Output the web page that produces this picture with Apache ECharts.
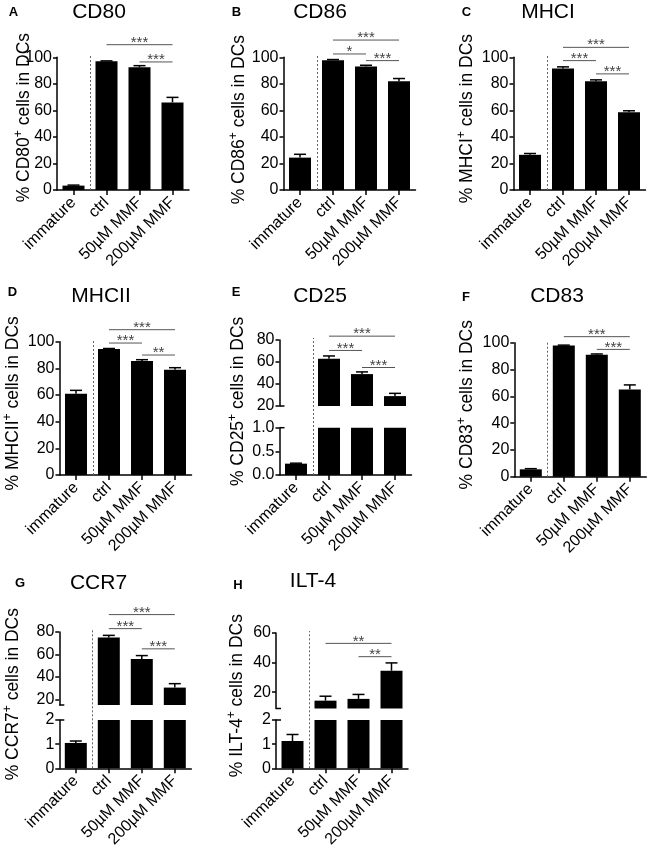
<!DOCTYPE html>
<html><head><meta charset="utf-8">
<script src="https://cdn.jsdelivr.net/npm/echarts@6/dist/echarts.min.js"></script>
<style>html,body{margin:0;padding:0;background:#fff}#c{width:649px;height:851px}</style>
</head><body><div id="c"></div>
<script>
// ---------------- data ----------------
const categories = ['immature', 'ctrl', '50µM MMF', '200µM MMF'];
const panelLetters = ['A', 'B', 'C', 'D', 'E', 'F', 'G', 'H'];
const panelTitles = ['CD80', 'CD86', 'MHCI', 'MHCII', 'CD25', 'CD83', 'CCR7', 'ILT-4'];

const cd80Mean = [3.3, 97, 92.5, 66];
const cd80Err = [0.4, 0.3, 1.2, 3.8];
const cd80Sig = [[1, 3, 109.5, '***'], [2, 3, 96.5, '***']];

const cd86Mean = [24.4, 97.8, 93, 82];
const cd86Err = [2.5, 0.5, 1, 2];
const cd86Sig = [[1, 3, 113, '***'], [1, 2, 102.5, '*'], [2, 3, 97.5, '***']];

const mhc1Mean = [26.5, 91.5, 82, 58.5];
const mhc1Err = [1, 1.3, 1, 1.2];
const mhc1Sig = [[1, 3, 107.5, '***'], [1, 2, 97.5, '***'], [2, 3, 87.5, '***']];

const mhc2Mean = [61, 94.5, 85.5, 79];
const mhc2Err = [2.5, 0.4, 1, 1.5];
const mhc2Sig = [[1, 3, 109, '***'], [1, 2, 99, '***'], [2, 3, 90, '**']];

const cd25Mean = [0.24, 63, 49, 29];
const cd25Err = [0.01, 2.5, 2, 2.5];
const cd25Sig = [[1, 3, 83.5, '***'], [1, 2, 70.5, '***'], [2, 3, 55, '***']];

const cd83Mean = [5.5, 98, 91, 65];
const cd83Err = [0.5, 0.2, 0.6, 3.5];
const cd83Sig = [[1, 3, 104.5, '***'], [2, 3, 95, '***']];

const ccr7Mean = [1.05, 75, 56, 30.5];
const ccr7Err = [0.08, 2, 3, 3.5];
const ccr7Sig = [[1, 3, 95.5, '***'], [1, 2, 83, '***'], [2, 3, 65, '***']];

const ilt4Mean = [1.13, 14.3, 15.5, 34.5];
const ilt4Err = [0.27, 3, 3, 5.3];
const ilt4Sig = [[1, 3, 53, '**'], [2, 3, 44, '**']];

const ticksPercent = [0, 20, 40, 60, 80, 100];
const cd25UpperTicks = [20, 40, 60, 80];
const cd25LowerTicks = [0, 0.5, 1.0];
const ccr7UpperTicks = [20, 40, 60, 80];
const ccr7LowerTicks = [0, 1, 2];
const ilt4UpperTicks = [20, 40, 60];
const ilt4LowerTicks = [0, 1, 2];

// ---------------- layout ----------------
const FONT = "'Liberation Sans', Arial, Helvetica, sans-serif";
const CAT_W = 33;
const fmt1 = v => v.toFixed(1);
const panels = [
  { mean: cd80Mean, err: cd80Err, sig: cd80Sig, left: 57, nameGap: 21, shift: 6, title: [99, 12.5], letter: [13.5, 12.5],
    segs: [{ top: 57.3, bottom: 190, min: 0, max: 100, ticks: ticksPercent }] },
  { mean: cd86Mean, err: cd86Err, sig: cd86Sig, left: 283.5, nameGap: 33, shift: 4, title: [320, 12.5], letter: [236.5, 12.5],
    segs: [{ top: 57.3, bottom: 190, min: 0, max: 100, ticks: ticksPercent }] },
  { mean: mhc1Mean, err: mhc1Err, sig: mhc1Sig, left: 513.5, nameGap: 35, shift: 5, title: [548, 12.5], letter: [466.5, 12.5],
    segs: [{ top: 57.3, bottom: 190, min: 0, max: 100, ticks: ticksPercent }] },
  { mean: mhc2Mean, err: mhc2Err, sig: mhc2Sig, left: 59.5, nameGap: 35, shift: 5, title: [101, 296.5], letter: [12.5, 292.5],
    segs: [{ top: 341.7, bottom: 475, min: 0, max: 100, ticks: ticksPercent }] },
  { mean: cd25Mean, err: cd25Err, sig: cd25Sig, left: 279.5, nameGap: 30, shift: 50, title: [320, 296.5], letter: [236, 292.5],
    segs: [{ top: 340, bottom: 406, min: 20, max: 80, ticks: cd25UpperTicks },
           { top: 427.7, bottom: 475, min: 0, max: 1, ticks: cd25LowerTicks, fmt: fmt1 }] },
  { mean: cd83Mean, err: cd83Err, sig: cd83Sig, left: 514.3, nameGap: 36, shift: 5, title: [557, 296.5], letter: [466, 297.5],
    segs: [{ top: 342.7, bottom: 476.7, min: 0, max: 100, ticks: ticksPercent }] },
  { mean: ccr7Mean, err: ccr7Err, sig: ccr7Sig, left: 59.3, nameGap: 35, shift: 50, title: [98.5, 583.3], letter: [20, 583.5],
    segs: [{ top: 632, bottom: 705, min: 15, max: 80, ticks: ccr7UpperTicks },
           { top: 720, bottom: 768.3, min: 0, max: 2, ticks: ccr7LowerTicks }] },
  { mean: ilt4Mean, err: ilt4Err, sig: ilt4Sig, left: 276, nameGap: 27, shift: 48.5, title: [313, 581.7], letter: [238, 585],
    segs: [{ top: 633, bottom: 708.5, min: 9, max: 60, ticks: ilt4UpperTicks },
           { top: 720, bottom: 768.3, min: 0, max: 2, ticks: ilt4LowerTicks }] }
];

function makeErrRender(seg) {
  return function (params, api) {
    const i = api.value(0), m = api.value(1), e = api.value(2);
    if (m > seg.max || m < seg.min) return null;
    const p0 = api.coord([i, m]);
    const p1 = api.coord([i, m + e]);
    const hw = 6;
    return { type: 'group', children: [
      { type: 'line', shape: { x1: p0[0], y1: p0[1], x2: p1[0], y2: p1[1] }, style: { stroke: '#000', lineWidth: 1.5 } },
      { type: 'line', shape: { x1: p1[0] - hw, y1: p1[1], x2: p1[0] + hw, y2: p1[1] }, style: { stroke: '#000', lineWidth: 1.5 } }
    ] };
  };
}

function makeSigRender(sig) {
  return function (params, api) {
    const s = sig[params.dataIndex];
    const pa = api.coord([s[0], s[2]]);
    const pb = api.coord([s[1], s[2]]);
    return { type: 'group', children: [
      { type: 'line', shape: { x1: pa[0], y1: pa[1], x2: pb[0], y2: pb[1] }, style: { stroke: '#555', lineWidth: 1 } },
      { type: 'text', x: (pa[0] + pb[0]) / 2, y: pa[1] - 2,
        style: { text: s[3], align: 'center', verticalAlign: 'middle', fontSize: 15, fontFamily: FONT, fill: '#444' } }
    ] };
  };
}

function makeDecoRender(seg, isTop, isBottom, panelTop) {
  return function (params, api) {
    const cs = params.coordSys;
    const children = [];
    if (isBottom) {
      const c0 = api.coord([0, seg.min]);
      const c1 = api.coord([1, seg.min]);
      const x = Math.round((c0[0] + c1[0]) / 2) + 0.5;
      children.push({ type: 'line', shape: { x1: x, y1: cs.y + cs.height, x2: x, y2: panelTop - 2 },
        style: { stroke: '#666', lineWidth: 1, lineDash: [2, 2] } });
    }
    if (!isBottom) {
      const y = cs.y + cs.height;
      children.push({ type: 'line', shape: { x1: cs.x, y1: y, x2: cs.x + 5, y2: y }, style: { stroke: '#000', lineWidth: 1.5 } });
    }
    if (!isTop) {
      const y = cs.y;
      children.push({ type: 'line', shape: { x1: cs.x, y1: y, x2: cs.x + 5, y2: y }, style: { stroke: '#000', lineWidth: 1.5 } });
    }
    return { type: 'group', children };
  };
}

const grid = [], xAxis = [], yAxis = [], series = [], title = [];
panels.forEach((p, pi) => {
  const nSeg = p.segs.length;
  const panelTop = p.segs[0].top;
  title.push({ text: panelTitles[pi], left: p.title[0], top: p.title[1], textAlign: 'center', textVerticalAlign: 'middle', padding: 0,
    textStyle: { fontSize: 21, fontWeight: 'normal', fontFamily: FONT, color: '#000' } });
  title.push({ text: panelLetters[pi], left: p.letter[0], top: p.letter[1], textAlign: 'center', textVerticalAlign: 'middle', padding: 0,
    textStyle: { fontSize: 13, fontWeight: 'bold', fontFamily: FONT, color: '#000' } });
  p.segs.forEach((s, si) => {
    const gi = grid.length;
    const isTop = si === 0, isBottom = si === nSeg - 1;
    grid.push({ left: p.left, top: s.top, width: CAT_W * categories.length, height: s.bottom - s.top,
      containLabel: false, outerBoundsMode: 'none' });
    xAxis.push({ gridIndex: gi, type: 'category', data: categories, boundaryGap: true,
      axisLine: { show: isBottom, onZero: false, lineStyle: { color: '#000', width: 1.5 } },
      axisTick: { show: isBottom, alignWithLabel: true, length: 5, lineStyle: { color: '#000', width: 1.5 } },
      axisLabel: { show: isBottom, interval: 0, rotate: 45, fontSize: 16, margin: 10, color: '#000', fontFamily: FONT },
      splitLine: { show: false } });
    const y = { gridIndex: gi, type: 'value', min: s.min, max: s.max,
      axisLine: { show: true, onZero: false, lineStyle: { color: '#000', width: 1.5 } },
      axisTick: { show: true, length: 4, customValues: s.ticks, lineStyle: { color: '#000', width: 1.5 } },
      axisLabel: { customValues: s.ticks, fontSize: 16, margin: 5, color: '#000', fontFamily: FONT,
        formatter: s.fmt || (v => String(v)) },
      splitLine: { show: false } };
    if (isBottom) {
      const marker = panelTitles[pi];
      const sh = p.shift;
      y.name = '{a|% ' + marker + '}{s|+}{a| cells in DCs}';
      y.nameLocation = 'middle';
      y.nameGap = p.nameGap;
      y.nameMoveOverlap = false;
      y.nameTextStyle = { fontSize: 17.5, fontFamily: FONT, color: '#000',
        padding: sh >= 0 ? [0, 0, 0, 2 * sh] : [0, -2 * sh, 0, 0],
        rich: { a: { fontSize: 17.5, fontFamily: FONT, color: '#000', lineHeight: 23 },
                s: { fontSize: 12, fontFamily: FONT, color: '#000', lineHeight: 10, verticalAlign: 'top' } } };
    }
    yAxis.push(y);
    series.push({ type: 'bar', xAxisIndex: gi, yAxisIndex: gi, data: p.mean, barWidth: 22, clip: true,
      itemStyle: { color: '#000' }, silent: true });
    series.push({ type: 'custom', xAxisIndex: gi, yAxisIndex: gi, clip: false, silent: true,
      data: p.mean.map((m, i) => [i, m, p.err[i]]), renderItem: makeErrRender(s) });
    series.push({ type: 'custom', xAxisIndex: gi, yAxisIndex: gi, clip: false, silent: true,
      data: [[0, s.min]], renderItem: makeDecoRender(s, isTop, isBottom, panelTop) });
    if (isTop) {
      series.push({ type: 'custom', xAxisIndex: gi, yAxisIndex: gi, clip: false, silent: true,
        data: p.sig.map(g => [g[0], g[2]]), renderItem: makeSigRender(p.sig) });
    }
  });
});

const chart = echarts.init(document.getElementById('c'), null, { renderer: 'canvas' });
chart.setOption({ animation: false, backgroundColor: '#fff', textStyle: { fontFamily: FONT },
  title, grid, xAxis, yAxis, series });
</script>
</body></html>
